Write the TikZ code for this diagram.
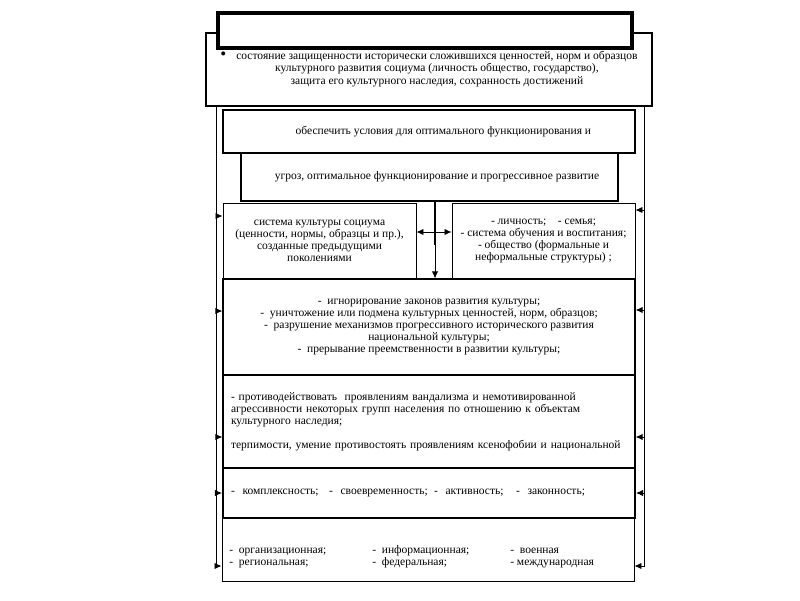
\documentclass[tikz,border=0pt]{standalone}
\usepackage{fontspec}
\setmainfont{Liberation Serif}
\usetikzlibrary{arrows.meta}

\begin{document}
\begin{tikzpicture}[
    box/.style={rectangle, draw, fill=white, inner sep=0pt, align=center, font=\fontsize{8.2}{8.6}\selectfont},
    leftbox/.style={box, align=left, inner xsep=0.2cm, text width=9.9cm},
    arrow/.style={-{Latex[length=5pt, width=4.5pt]}, line width=0.6pt},
    dual/.style={{Latex[length=5pt, width=4.5pt]}-{Latex[length=5pt, width=4.5pt]}, line width=0.6pt}
]
\useasboundingbox (0,0) rectangle (20,15);

% Goal and title
\node[box, line width=2.1pt, minimum width=11.15cm, minimum height=1.825cm] (goal) at (10.725, 13.2625) {%
  \begin{tabular}{@{}l@{\hspace{0.25cm}}c@{}}
  {\large\textbullet} & состояние защищенности исторически сложившихся ценностей, норм и образцов\\
  & культурного развития социума (личность общество, государство),\\
  & защита его культурного наследия, сохранность достижений
  \end{tabular}};
\node[box, line width=2.8pt, minimum width=10.35cm, minimum height=0.875cm] (title) at (10.625, 14.2375) {};

% Conditions
\node[box, line width=1.4pt, minimum width=10.3cm, minimum height=1.075cm] (cond) at (10.725, 11.7125) {\hspace*{0.72cm}обеспечить условия для оптимального функционирования и};
\node[box, line width=2pt, minimum width=9.425cm, minimum height=1.2cm] (threat) at (10.7375, 10.575) {\hspace*{0.38cm}угроз, оптимальное функционирование и прогрессивное развитие};

% Object and subjects
\node[box, line width=0.6pt, minimum width=4.825cm, minimum height=1.9cm] (culture) at (7.9875, 8.975) {система культуры социума\\(ценности, нормы, образцы и пр.),\\созданные предыдущими\\поколениями};
\node[box, line width=0.6pt, minimum width=4.575cm, minimum height=1.9cm] (subjects) at (13.5875, 8.975) {- личность;\quad - семья;\\- система обучения и воспитания;\\- общество (формальные и\\неформальные структуры) ;};

% Risks
\node[box, line width=0.8pt, minimum width=10.3cm, minimum height=2.4cm] (risks) at (10.725, 6.825) {-\ \ игнорирование законов развития культуры;\\-\ \ уничтожение или подмена культурных ценностей, норм, образцов;\\-\ \ разрушение механизмов прогрессивного исторического развития\\национальной культуры;\\-\ \ прерывание преемственности в развитии культуры;};

% Tasks
\node[leftbox, line width=0.8pt, minimum width=10.3cm, minimum height=2.325cm] (tasks) at (10.725, 4.4625) {- противодействовать\ \ проявлениям вандализма и немотивированной\\агрессивности некоторых групп населения по отношению к объектам\\культурного наследия;\\[8.6pt]терпимости, умение противостоять проявлениям ксенофобии и национальной};

% Principles
\node[leftbox, line width=1.4pt, minimum width=10.3cm, minimum height=1.25cm] (principles) at (10.725, 2.675) {\makebox[2.45cm][l]{-\ \ комплексность;}\makebox[2.625cm][l]{-\ \ своевременность;}\makebox[2.05cm][l]{-\ \ активность;}-\ \ законность;};

% Levels
\node[box, line width=0.6pt, minimum width=10.3cm, minimum height=1.575cm] (levels) at (10.7, 1.2625) {};
\node[box, draw=none, fill=none, anchor=west] (levelstext) at (5.725, 1.0625) {%
  \begin{tabular}{@{}p{3.575cm}@{}p{3.45cm}@{}l@{}}
  -\ \ организационная; & -\ \ информационная; & -\ \ военная\\
  -\ \ региональная; & -\ \ федеральная; & - международная
  \end{tabular}};

% Side buses
\coordinate (lbus) at (5.4, 0.85);
\coordinate (rbus) at (16.1, 0.85);
\draw[arrow] (lbus |- goal.south) -- (lbus) -- (levels.west |- lbus);
\draw[arrow] (rbus |- goal.south) -- (rbus) -- (levels.east |- rbus);
\foreach \n/\s in {culture/0.625, risks/0.4, tasks/-0.3875, principles/0}
  \draw[arrow] ([yshift=\s cm]\n.west -| lbus) -- ([yshift=\s cm]\n.west);
\foreach \n/\s in {subjects/0.775, risks/0.425, tasks/-0.3875, principles/0}
  \draw[arrow] ([yshift=\s cm]\n.east -| rbus) -- ([yshift=\s cm]\n.east);

% Centre link
\coordinate (split) at (10.875, 8.875);
\draw[line width=1.4pt] (threat.south -| split) -- (split);
\draw[arrow] (split) -- (split |- risks.north);
\draw[dual] ([yshift=0.225cm]culture.east) -- ([yshift=0.225cm]subjects.west);

\end{tikzpicture}
\end{document}
